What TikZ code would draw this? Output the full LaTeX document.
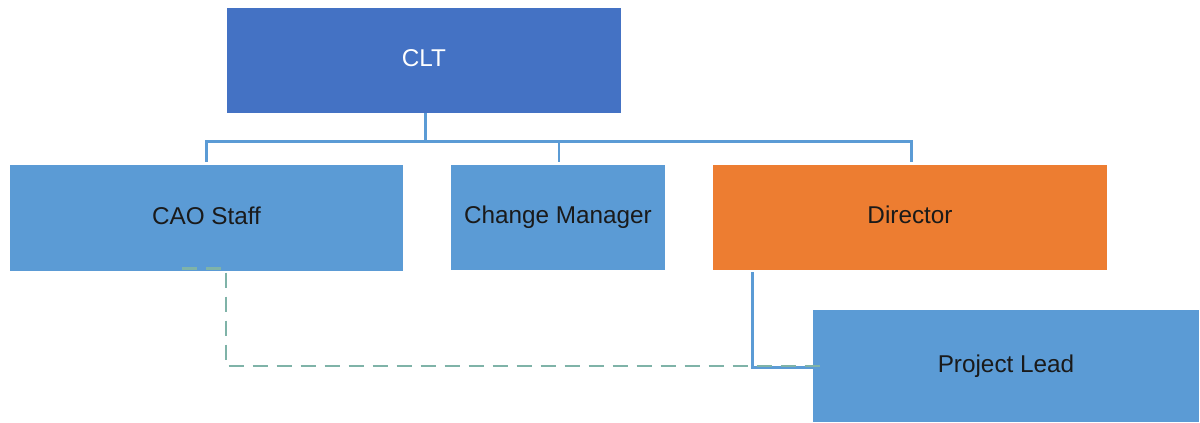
\documentclass[tikz,border=0pt]{standalone}
\usepackage{fontspec}
\setmainfont{Liberation Sans}
\definecolor{cltblue}{HTML}{4472C4}
\definecolor{boxblue}{HTML}{5B9BD5}
\definecolor{dirorange}{HTML}{ED7D31}
\definecolor{linkblue}{HTML}{5B9BD5}
\definecolor{dashteal}{HTML}{7FB3A8}
\definecolor{txtdark}{HTML}{1A1A1A}
\begin{document}
\begin{tikzpicture}[x=1pt,y=-1pt,
  box/.style={rectangle,inner sep=0pt,minimum width=#1,text height=17pt,text depth=5pt,font=\fontsize{24.3}{28}\selectfont,text=txtdark,fill=boxblue},
  link/.style={draw=linkblue,line width=3pt},
  thinlink/.style={draw=linkblue,line width=1.5pt},
  dashlink/.style={draw=dashteal,line width=2.4pt,dash pattern=on 15pt off 9pt}]
\useasboundingbox (0,0) rectangle (1200,423);
\node[box=394pt,minimum height=105pt,fill=cltblue,text=white] (clt) at (424,60.5) {CLT};
\node[box=393pt,minimum height=106pt] (cao) at (206.5,218) {CAO Staff};
\node[box=214pt,minimum height=105pt] (cm) at (558,217.5) {Change Manager};
\node[box=394pt,minimum height=105pt,fill=dirorange] (dir) at (910,217.5) {Director};
\node[box=386pt,minimum height=112pt] (pl) at (1006,366) {Project Lead};
\coordinate (bus) at (425,141);
\draw[link] (clt.south -| bus) -- (bus);
\draw[link] (bus) -| (206,162);
\draw[link] (bus) -| (911,162);
\draw[thinlink] (559,141) -- (559,162);
\draw[link] (752,272) -- (752,367) -- (pl.west |- 0,367);
\draw[dashlink] (182,268.5) -- (226,268.5) -- (226,366) -- (823,366);
\end{tikzpicture}
\end{document}
